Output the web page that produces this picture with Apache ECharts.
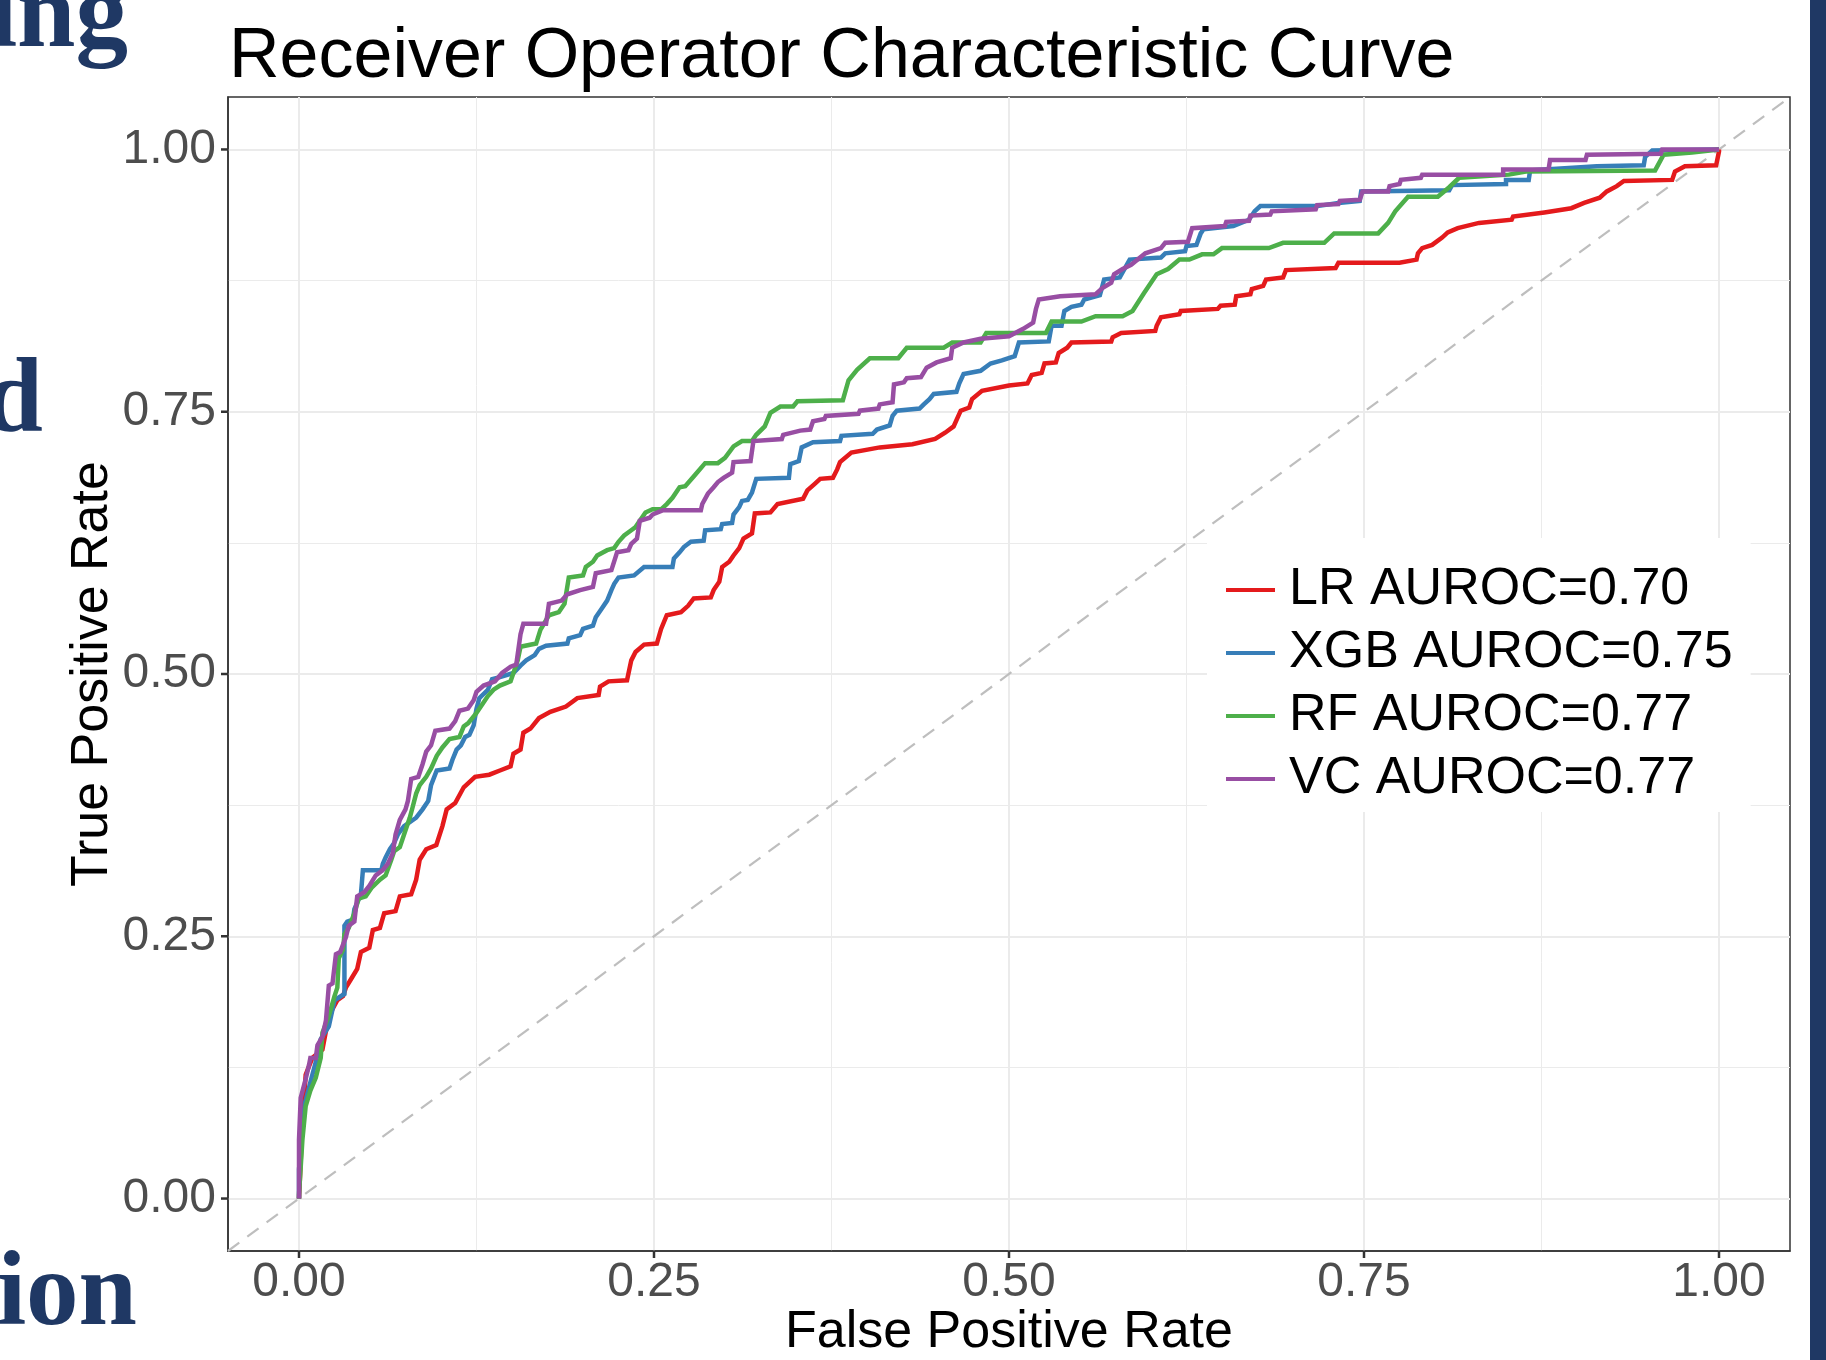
<!DOCTYPE html>
<html>
<head>
<meta charset="utf-8">
<script src="https://cdn.jsdelivr.net/npm/echarts@6/dist/echarts.min.js"></script>
<style>
html,body{margin:0;padding:0;background:#fff;}
#chart{width:1826px;height:1360px;}
</style>
</head>
<body>
<div id="chart"></div>
<script>
// ---------------- DATA ----------------
const chartTitle = 'Receiver Operator Characteristic Curve';
const xTitle = 'False Positive Rate';
const yTitle = 'True Positive Rate';
const seriesNames = ['LR AUROC=0.70', 'XGB AUROC=0.75', 'RF AUROC=0.77', 'VC AUROC=0.77'];
const seriesColors = ['#E41A1C', '#377EB8', '#4DAF4A', '#984EA3'];
const majorTicks = [0, 0.25, 0.5, 0.75, 1];
const majorTickLabels = ['0.00', '0.25', '0.50', '0.75', '1.00'];
const minorTicks = [0.125, 0.375, 0.625, 0.875];
const axisRange = [-0.05, 1.05];
const diagonal = [[-0.05, -0.05], [1.05, 1.05]];
const slideFragments = ['ing', 'd', 'ion'];

// [false positive rate, true positive rate]
const lrPoints = [[0,0],[0.002,0.06],[0.0047,0.118],[0.0094,0.134],[0.0165,0.142],[0.021,0.174],[0.027,0.189],[0.031,0.193],[0.033,0.201],[0.0366,0.209],[0.041,0.219],[0.0436,0.235],[0.0495,0.239],[0.052,0.256],[0.057,0.258],[0.060,0.272],[0.068,0.274],[0.071,0.288],[0.079,0.290],[0.0825,0.304],[0.085,0.323],[0.0896,0.333],[0.0967,0.337],[0.101,0.355],[0.104,0.371],[0.110,0.377],[0.116,0.392],[0.124,0.402],[0.134,0.404],[0.1415,0.408],[0.149,0.412],[0.151,0.424],[0.156,0.428],[0.158,0.444],[0.163,0.448],[0.169,0.458],[0.177,0.464],[0.188,0.469],[0.196,0.477],[0.211,0.480],[0.212,0.488],[0.218,0.493],[0.231,0.494],[0.234,0.513],[0.237,0.521],[0.243,0.528],[0.252,0.529],[0.255,0.543],[0.259,0.556],[0.269,0.559],[0.274,0.565],[0.278,0.572],[0.290,0.573],[0.292,0.580],[0.296,0.588],[0.298,0.602],[0.303,0.607],[0.306,0.613],[0.310,0.620],[0.313,0.629],[0.319,0.634],[0.321,0.653],[0.332,0.654],[0.337,0.662],[0.355,0.667],[0.358,0.675],[0.363,0.681],[0.367,0.686],[0.376,0.687],[0.379,0.695],[0.381,0.702],[0.389,0.711],[0.409,0.716],[0.432,0.719],[0.448,0.724],[0.455,0.730],[0.461,0.736],[0.466,0.751],[0.472,0.754],[0.474,0.762],[0.481,0.770],[0.500,0.775],[0.513,0.777],[0.516,0.785],[0.523,0.787],[0.525,0.796],[0.533,0.797],[0.535,0.806],[0.541,0.811],[0.544,0.816],[0.572,0.817],[0.573,0.821],[0.579,0.825],[0.603,0.827],[0.604,0.832],[0.607,0.840],[0.620,0.843],[0.621,0.846],[0.647,0.848],[0.649,0.851],[0.659,0.852],[0.660,0.860],[0.670,0.862],[0.671,0.867],[0.679,0.870],[0.681,0.876],[0.693,0.878],[0.695,0.885],[0.730,0.887],[0.732,0.892],[0.775,0.892],[0.787,0.895],[0.788,0.901],[0.791,0.906],[0.798,0.909],[0.805,0.916],[0.809,0.921],[0.816,0.925],[0.831,0.930],[0.854,0.933],[0.855,0.936],[0.877,0.940],[0.896,0.944],[0.905,0.949],[0.916,0.954],[0.921,0.960],[0.928,0.965],[0.933,0.970],[0.967,0.971],[0.969,0.979],[0.976,0.984],[0.998,0.985],[1,0.998],[1,1]];

const xgbPoints = [[0,0],[0,0.028],[0.004,0.09],[0.0094,0.118],[0.0118,0.130],[0.0153,0.152],[0.021,0.164],[0.025,0.189],[0.032,0.195],[0.032,0.260],[0.034,0.264],[0.038,0.266],[0.039,0.276],[0.0436,0.290],[0.045,0.313],[0.058,0.313],[0.059,0.319],[0.061,0.325],[0.064,0.333],[0.067,0.339],[0.0696,0.347],[0.074,0.355],[0.0825,0.363],[0.087,0.371],[0.091,0.379],[0.093,0.394],[0.097,0.408],[0.106,0.410],[0.108,0.418],[0.111,0.428],[0.114,0.432],[0.117,0.440],[0.120,0.442],[0.123,0.451],[0.125,0.467],[0.127,0.477],[0.133,0.485],[0.136,0.495],[0.1415,0.497],[0.151,0.501],[0.156,0.508],[0.160,0.513],[0.166,0.518],[0.169,0.524],[0.174,0.527],[0.189,0.529],[0.190,0.534],[0.198,0.537],[0.200,0.543],[0.207,0.546],[0.209,0.554],[0.213,0.562],[0.217,0.570],[0.220,0.580],[0.222,0.586],[0.225,0.592],[0.236,0.594],[0.243,0.602],[0.263,0.602],[0.264,0.610],[0.268,0.616],[0.271,0.621],[0.276,0.626],[0.285,0.627],[0.286,0.637],[0.297,0.638],[0.298,0.643],[0.305,0.644],[0.306,0.652],[0.310,0.659],[0.312,0.665],[0.316,0.666],[0.319,0.673],[0.322,0.686],[0.345,0.687],[0.346,0.700],[0.352,0.703],[0.354,0.716],[0.362,0.721],[0.381,0.722],[0.382,0.727],[0.404,0.729],[0.407,0.733],[0.416,0.737],[0.418,0.746],[0.421,0.751],[0.437,0.753],[0.440,0.757],[0.444,0.762],[0.447,0.767],[0.463,0.769],[0.465,0.777],[0.468,0.786],[0.480,0.789],[0.487,0.796],[0.495,0.799],[0.504,0.803],[0.507,0.816],[0.528,0.817],[0.530,0.832],[0.537,0.832],[0.539,0.846],[0.544,0.850],[0.551,0.852],[0.553,0.857],[0.564,0.861],[0.567,0.876],[0.578,0.878],[0.585,0.895],[0.607,0.897],[0.610,0.901],[0.624,0.903],[0.625,0.908],[0.632,0.909],[0.635,0.920],[0.637,0.924],[0.658,0.927],[0.669,0.933],[0.673,0.941],[0.677,0.946],[0.717,0.946],[0.732,0.949],[0.747,0.951],[0.748,0.960],[0.810,0.961],[0.812,0.966],[0.850,0.967],[0.850,0.971],[0.866,0.971],[0.867,0.980],[0.914,0.984],[0.947,0.985],[0.948,0.993],[0.953,0.999],[1,1]];

const rfPoints = [[0,0],[0,0.004],[0.0024,0.056],[0.0047,0.088],[0.008,0.103],[0.0118,0.115],[0.0153,0.134],[0.0165,0.158],[0.021,0.174],[0.025,0.193],[0.027,0.201],[0.028,0.229],[0.031,0.237],[0.032,0.252],[0.035,0.258],[0.039,0.272],[0.042,0.286],[0.047,0.288],[0.051,0.296],[0.057,0.304],[0.061,0.308],[0.065,0.323],[0.067,0.331],[0.071,0.335],[0.075,0.351],[0.078,0.363],[0.080,0.373],[0.0825,0.386],[0.085,0.394],[0.0896,0.402],[0.093,0.410],[0.097,0.422],[0.101,0.430],[0.106,0.438],[0.113,0.440],[0.116,0.450],[0.119,0.453],[0.125,0.463],[0.129,0.471],[0.133,0.479],[0.137,0.485],[0.1415,0.489],[0.149,0.493],[0.151,0.501],[0.154,0.513],[0.156,0.526],[0.167,0.529],[0.170,0.542],[0.176,0.556],[0.183,0.559],[0.187,0.567],[0.190,0.592],[0.200,0.594],[0.202,0.602],[0.207,0.607],[0.210,0.613],[0.217,0.618],[0.222,0.620],[0.225,0.626],[0.229,0.632],[0.234,0.637],[0.237,0.640],[0.240,0.646],[0.244,0.654],[0.249,0.657],[0.255,0.657],[0.259,0.662],[0.263,0.668],[0.268,0.678],[0.272,0.679],[0.279,0.690],[0.286,0.701],[0.295,0.701],[0.300,0.706],[0.306,0.717],[0.312,0.722],[0.319,0.722],[0.322,0.728],[0.328,0.736],[0.332,0.749],[0.339,0.755],[0.348,0.755],[0.351,0.760],[0.383,0.761],[0.387,0.780],[0.393,0.790],[0.402,0.801],[0.422,0.801],[0.428,0.811],[0.454,0.811],[0.460,0.816],[0.480,0.816],[0.484,0.825],[0.526,0.825],[0.530,0.836],[0.551,0.836],[0.561,0.841],[0.580,0.841],[0.587,0.846],[0.595,0.863],[0.604,0.881],[0.612,0.886],[0.620,0.895],[0.627,0.895],[0.636,0.900],[0.644,0.900],[0.650,0.906],[0.683,0.906],[0.693,0.911],[0.722,0.911],[0.729,0.920],[0.760,0.920],[0.767,0.930],[0.772,0.941],[0.781,0.955],[0.802,0.955],[0.810,0.964],[0.817,0.973],[0.852,0.976],[0.864,0.979],[0.955,0.980],[0.961,0.995],[0.981,0.997],[1,1]];

const vcPoints = [[0,0],[0,0.056],[0.0012,0.096],[0.0047,0.114],[0.007,0.127],[0.008,0.134],[0.0118,0.134],[0.013,0.146],[0.0165,0.154],[0.019,0.170],[0.021,0.203],[0.0236,0.205],[0.026,0.233],[0.029,0.235],[0.033,0.249],[0.035,0.260],[0.039,0.264],[0.041,0.288],[0.046,0.292],[0.0495,0.298],[0.054,0.308],[0.059,0.313],[0.0625,0.319],[0.066,0.329],[0.068,0.347],[0.071,0.361],[0.075,0.371],[0.0767,0.379],[0.079,0.400],[0.084,0.402],[0.087,0.414],[0.0896,0.426],[0.093,0.432],[0.096,0.446],[0.106,0.448],[0.110,0.455],[0.113,0.465],[0.119,0.467],[0.123,0.475],[0.125,0.483],[0.130,0.489],[0.138,0.493],[0.143,0.501],[0.149,0.507],[0.153,0.509],[0.156,0.538],[0.158,0.548],[0.174,0.548],[0.176,0.567],[0.185,0.570],[0.189,0.576],[0.198,0.580],[0.207,0.583],[0.209,0.596],[0.220,0.599],[0.224,0.616],[0.232,0.618],[0.234,0.624],[0.238,0.629],[0.240,0.646],[0.247,0.649],[0.249,0.652],[0.256,0.656],[0.283,0.656],[0.284,0.662],[0.288,0.672],[0.292,0.678],[0.295,0.683],[0.299,0.687],[0.305,0.692],[0.306,0.702],[0.318,0.703],[0.320,0.722],[0.340,0.724],[0.341,0.728],[0.353,0.732],[0.360,0.733],[0.362,0.741],[0.370,0.743],[0.371,0.746],[0.394,0.748],[0.395,0.751],[0.408,0.753],[0.409,0.757],[0.418,0.759],[0.419,0.776],[0.426,0.778],[0.428,0.782],[0.438,0.783],[0.442,0.792],[0.449,0.797],[0.459,0.801],[0.460,0.811],[0.468,0.816],[0.480,0.8195],[0.500,0.822],[0.510,0.829],[0.517,0.835],[0.519,0.848],[0.521,0.857],[0.536,0.860],[0.561,0.862],[0.566,0.868],[0.572,0.873],[0.574,0.881],[0.580,0.886],[0.586,0.890],[0.596,0.901],[0.607,0.906],[0.610,0.911],[0.626,0.912],[0.629,0.925],[0.652,0.927],[0.653,0.931],[0.669,0.932],[0.670,0.937],[0.684,0.938],[0.685,0.941],[0.716,0.943],[0.717,0.947],[0.732,0.948],[0.733,0.951],[0.747,0.952],[0.749,0.960],[0.767,0.960],[0.768,0.965],[0.775,0.967],[0.776,0.971],[0.790,0.973],[0.791,0.976],[0.848,0.976],[0.848,0.981],[0.880,0.981],[0.881,0.990],[0.906,0.990],[0.907,0.995],[0.959,0.996],[0.960,1],[1,1]];

const allPoints = [lrPoints, xgbPoints, rfPoints, vcPoints];

// ---------------- CHART ----------------
const FONT = '"Liberation Sans", Arial, Helvetica, sans-serif';
const SERIF = '"Liberation Serif", "Times New Roman", serif';
const TICK_LEN = 7;
const chart = echarts.init(document.getElementById('chart'), null, {renderer: 'canvas'});

const tickLabelFmt = v => {
  const i = majorTicks.findIndex(t => Math.abs(t - v) < 1e-9);
  return i >= 0 ? majorTickLabels[i] : '';
};

function makeAxes(isX) {
  const main = {
    type: 'value',
    min: axisRange[0],
    max: axisRange[1],
    position: isX ? 'bottom' : 'left',
    axisLine: {show: true, onZero: false, lineStyle: {color: '#333333', width: 1.5}},
    axisTick: {show: false, customValues: majorTicks},
    axisLabel: {customValues: majorTicks, formatter: tickLabelFmt, fontSize: 48, color: '#4D4D4D', fontFamily: FONT, margin: isX ? 8 : 12},
    splitLine: {show: true, lineStyle: {color: '#EBEBEB', width: 2}},
    name: isX ? xTitle : yTitle,
    nameLocation: 'middle',
    nameMoveOverlap: false,
    nameGap: isX ? 56 : 109,
    nameTextStyle: {fontSize: 52, color: '#000', fontFamily: FONT}
  };
  const minor = {
    type: 'value',
    min: axisRange[0],
    max: axisRange[1],
    position: isX ? 'bottom' : 'left',
    axisLine: {show: false, onZero: false},
    axisTick: {show: false, customValues: minorTicks},
    axisLabel: {show: false, customValues: minorTicks},
    splitLine: {show: true, lineStyle: {color: '#EBEBEB', width: 1}}
  };
  return [main, minor];
}

const series = [{
  name: 'diag',
  type: 'line',
  data: diagonal,
  symbol: 'none',
  silent: true,
  lineStyle: {color: '#BEBEBE', width: 2.2, type: [14, 10]},
  z: 1
}].concat(seriesNames.map((n, i) => ({
  name: n,
  type: 'line',
  data: allPoints[i],
  symbol: 'none',
  smooth: false,
  lineStyle: {color: seriesColors[i], width: 4.5, join: 'miter'},
  itemStyle: {color: seriesColors[i]},
  z: 2 + i
})));

const baseGraphic = [
  {type: 'rect', left: 1810, top: 0, shape: {width: 16, height: 1360}, style: {fill: '#1F3864'}, z: 10},
  {type: 'text', x: 128, y: 19, style: {text: slideFragments[0], fill: '#1F3864', font: 'bold 105px ' + SERIF, textAlign: 'right', textVerticalAlign: 'middle'}},
  {type: 'text', x: 43, y: 404, style: {text: slideFragments[1], fill: '#1F3864', font: 'bold 105px ' + SERIF, textAlign: 'right', textVerticalAlign: 'middle'}},
  {type: 'text', x: 137, y: 1297, style: {text: slideFragments[2], fill: '#1F3864', font: 'bold 105px ' + SERIF, textAlign: 'right', textVerticalAlign: 'middle'}}
];

const option = {
  animation: false,
  backgroundColor: '#ffffff',
  title: {
    text: chartTitle,
    left: 229,
    top: 23,
    padding: 0,
    textStyle: {fontSize: 70, fontWeight: 'normal', color: '#000', fontFamily: FONT}
  },
  grid: {
    left: 228, right: 36, top: 97, bottom: 109,
    show: true, borderColor: '#333333', borderWidth: 1.5, backgroundColor: 'transparent',
    outerBoundsMode: 'none'
  },
  xAxis: makeAxes(true),
  yAxis: makeAxes(false),
  legend: {
    data: seriesNames,
    orient: 'vertical',
    left: 1207,
    top: 538,
    backgroundColor: '#ffffff',
    padding: [24, 18, 5, 19],
    itemWidth: 49,
    itemHeight: 4,
    itemGap: 7,
    icon: 'rect',
    selectedMode: false,
    textStyle: {fontSize: 52, lineHeight: 56, color: '#000', fontFamily: FONT, padding: [0, 0, 0, 9]}
  },
  graphic: baseGraphic,
  series: series
};
chart.setOption(option);

// Axis ticks placed through the library's own scales (outside the panel)
const tickLines = [];
const y0 = chart.convertToPixel({yAxisIndex: 0}, axisRange[0]);
const x0 = chart.convertToPixel({xAxisIndex: 0}, axisRange[0]);
majorTicks.forEach(v => {
  const px = chart.convertToPixel({xAxisIndex: 0}, v);
  const py = chart.convertToPixel({yAxisIndex: 0}, v);
  tickLines.push({type: 'line', shape: {x1: px, y1: y0, x2: px, y2: y0 + TICK_LEN}, style: {stroke: '#333333', lineWidth: 2.5}, z: 5});
  tickLines.push({type: 'line', shape: {x1: x0, y1: py, x2: x0 - TICK_LEN, y2: py}, style: {stroke: '#333333', lineWidth: 2.5}, z: 5});
});
chart.setOption({graphic: baseGraphic.concat(tickLines)});
</script>
</body>
</html>
